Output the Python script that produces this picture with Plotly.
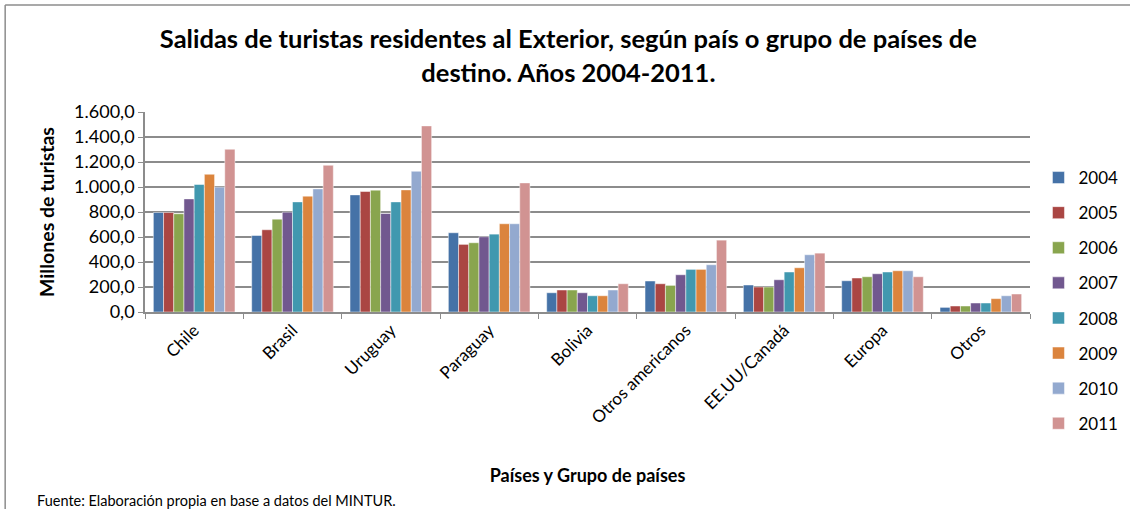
import plotly.graph_objects as go

# destinos
categorias = ["Chile", "Brasil", "Uruguay", "Paraguay", "Bolivia",
              "Otros americanos", "EE.UU/Canadá", "Europa", "Otros"]
anios = ["2004", "2005", "2006", "2007", "2008", "2009", "2010", "2011"]

# valores por año (miles)
v2004 = [796, 612, 937, 634, 154, 248, 216, 250, 37]
v2005 = [796, 658, 964, 541, 176, 226, 200, 272, 48]
v2006 = [786, 743, 975, 554, 176, 213, 200, 282, 48]
v2007 = [905, 799, 788, 602, 154, 298, 258, 306, 72]
v2008 = [1020, 881, 881, 623, 130, 341, 320, 320, 72]
v2009 = [1102, 927, 977, 706, 130, 341, 354, 330, 107]
v2010 = [999, 985, 1126, 706, 176, 378, 458, 330, 130]
v2011 = [1302, 1174, 1489, 1033, 226, 575, 471, 282, 144]
series = [v2004, v2005, v2006, v2007, v2008, v2009, v2010, v2011]

colores = ["#4572A7", "#AA4643", "#89A54E", "#71588F",
           "#4198AF", "#DB843D", "#93A9CF", "#D19392"]

fig = go.Figure()
for anio, vals, col in zip(anios, series, colores):
    fig.add_trace(go.Bar(
        x=categorias, y=vals, name=anio, legendgroup=anio,
        marker=dict(color=col, line=dict(color="rgba(255,255,255,0.6)", width=0.8)),
    ))

fuente = "Lato, 'Noto Sans', sans-serif"
fig.update_layout(
    width=1130, height=509,
    barmode="group", bargap=0.17, bargroupgap=0,
    separators=",.",
    font=dict(family=fuente, color="#000000"),
    plot_bgcolor="white", paper_bgcolor="white",
    margin=dict(l=145, r=100, t=112, b=197, autoexpand=False),
    title=dict(
        text="<b>Salidas de turistas residentes al Exterior, según país o grupo de países de<br>destino. Años 2004-2011.</b>",
        x=0.503, xanchor="center", y=0.905, yanchor="top",
        font=dict(size=25.5, family=fuente),
    ),
    legend=dict(
        xref="container", yref="container",
        x=0.919, xanchor="left", y=1 - 160 / 509, yanchor="top",
        font=dict(size=17), tracegroupgap=10, itemwidth=30,
        maxheight=400,
    ),
    showlegend=True,
)

fig.update_yaxes(
    range=[0, 1600], dtick=200, tickformat=",.1f",
    showgrid=True, gridcolor="#8c8c8c", gridwidth=1.5,
    showline=True, linecolor="#8c8c8c", linewidth=1.5,
    ticks="outside", ticklen=5, tickcolor="#8c8c8c",
    tickfont=dict(size=18),
    title=dict(text="<b>Millones de turistas</b>", font=dict(size=19.5), standoff=14),
    zeroline=False,
)
fig.update_xaxes(
    tickangle=-45, tickson="boundaries",
    showline=True, linecolor="#8c8c8c", linewidth=1.5,
    ticks="outside", ticklen=5, tickcolor="#8c8c8c",
    tickfont=dict(size=17),
    title=dict(text="<b>Países y Grupo de países</b>", font=dict(size=18), standoff=43),
)

fig.add_annotation(
    text="Fuente: Elaboración propia en base a datos del MINTUR.",
    xref="paper", yref="paper", x=-0.124, y=-0.94,
    xanchor="left", yanchor="middle", showarrow=False,
    font=dict(size=14.5, family=fuente),
)

# marco del grafico (bordes superior e izquierdo)
fig.add_shape(type="line", xref="paper", yref="paper",
              x0=-0.158, x1=1.2, y0=1.535, y1=1.535,
              line=dict(color="#8c8c8c", width=1.5))
fig.add_shape(type="line", xref="paper", yref="paper",
              x0=-0.158, x1=-0.158, y0=1.535, y1=-1.1,
              line=dict(color="#8c8c8c", width=1.5))

# quitar el margen por defecto del body para que la figura ocupe la ventana
fig.write_html("out.html", config={"displayModeBar": False},
               post_script="document.body.style.margin='0';")
